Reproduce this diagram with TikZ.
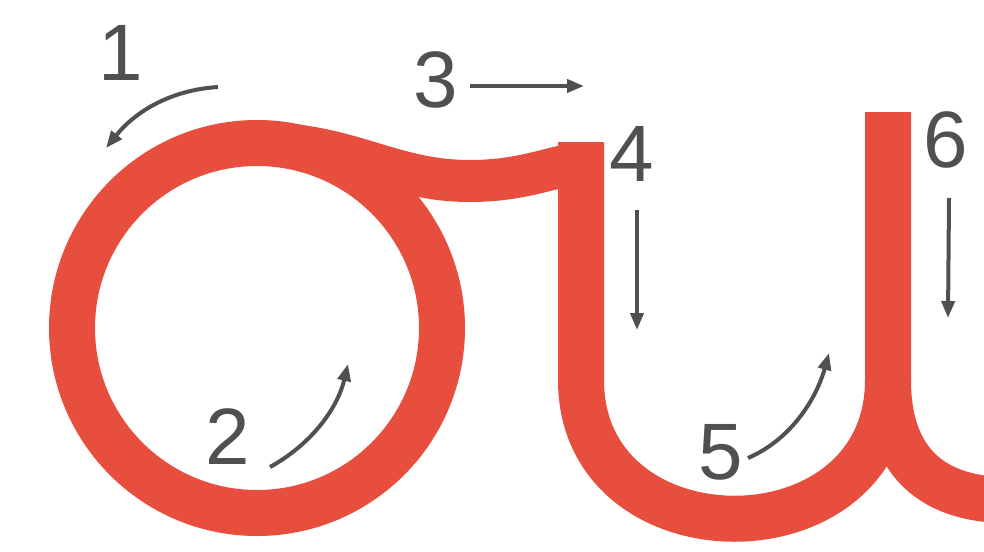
\documentclass[tikz,border=0pt]{standalone}
\usepackage{fontspec}
\setmainfont{Liberation Sans}
\usetikzlibrary{arrows.meta}
\definecolor{letterred}{RGB}{232,78,62}
\definecolor{guidegray}{RGB}{80,80,80}
\tikzset{
  stroke/.style={draw=letterred, line width=46pt, line cap=butt},
  guide/.style={draw=guidegray, line width=4pt, -{Triangle[length=17pt,width=13pt]}},
  numlabel/.style={text=guidegray, inner sep=0pt, font=\fontsize{80}{80}\selectfont},
}
\begin{document}
\begin{tikzpicture}[x=1pt,y=-1pt]
\useasboundingbox[fill=white] (0,0) rectangle (984,551);
\begin{scope}
\clip (0,0) rectangle (984,551);
% sigma loop
\draw[stroke] (257,328) circle[radius=185];
% top bar to the stem
\draw[stroke, line width=42pt] (257,143) .. controls (350,143) and (390,181) .. (470,181)
  .. controls (525,181) and (555,165) .. (583,163);
% u shape
\draw[stroke] (581,142) -- (581,380) .. controls (581,565) and (888,565) .. (888,380) -- (888,112);
% outgoing tail
\draw[stroke] (888,380) .. controls (888,460) and (930,497) .. (1000,500);
\end{scope}
% labels
\node[numlabel] (n1) at (121,53) {1};
\node[numlabel] (n2) at (228,437) {2};
\node[numlabel] (n3) at (436,80) {3};
\node[numlabel] (n4) at (632,154) {4};
\node[numlabel] (n5) at (721,452) {5};
\node[numlabel] (n6) at (946,140) {6};
% arrow end points
\coordinate (a1s) at (218,87);  \coordinate (a1e) at (106,148);
\coordinate (a2s) at (270,467); \coordinate (a2e) at (348,364);
\coordinate (a3s) at (470,86);  \coordinate (a3e) at (584,86);
\coordinate (a4s) at (637,210); \coordinate (a4e) at (637,330);
\coordinate (a5s) at (748,458); \coordinate (a5e) at (829,353);
\coordinate (a6s) at (949,198); \coordinate (a6e) at (948,318);
\draw[guide] (a1s) .. controls (170,90) and (135,112) .. (a1e);
\draw[guide] (a2s) .. controls (310,445) and (337,410) .. (a2e);
\draw[guide] (a3s) -- (a3e);
\draw[guide] (a4s) -- (a4e);
\draw[guide] (a5s) .. controls (790,440) and (816,400) .. (a5e);
\draw[guide] (a6s) -- (a6e);
\end{tikzpicture}
\end{document}
